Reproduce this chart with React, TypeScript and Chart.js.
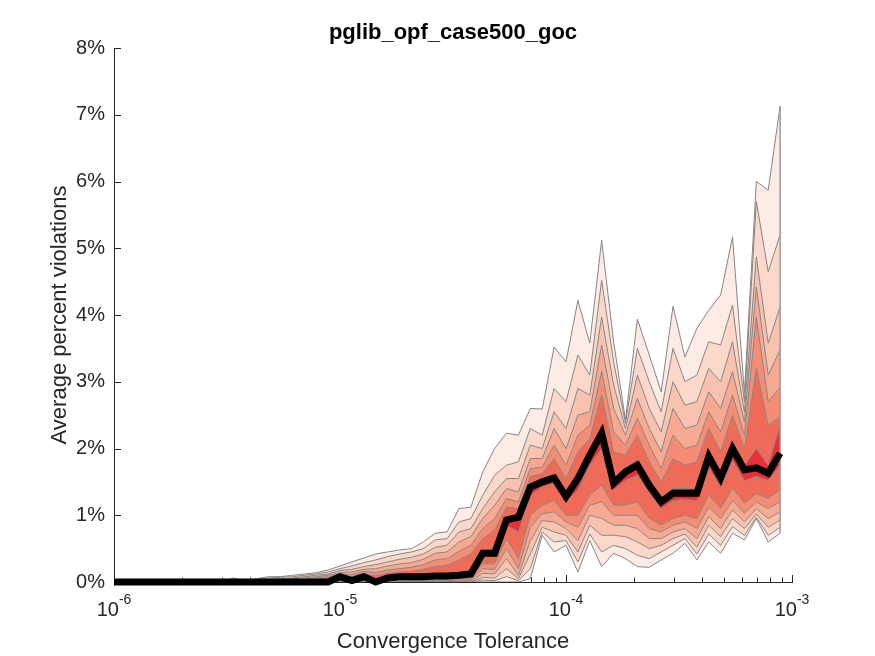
import { useEffect, useRef } from "react";
import { Chart, registerables } from "chart.js";

Chart.register(...registerables);

const chartTitle = "pglib_opf_case500_goc";
const xAxisTitle = "Convergence Tolerance";
const yAxisTitle = "Average percent violations";

// Convergence tolerances (x categories)
const tolerance = [
  1.0e-6, 1.129e-6, 1.274e-6, 1.438e-6, 1.624e-6, 1.833e-6, 2.069e-6, 2.336e-6, 2.637e-6, 2.976e-6,
  3.36e-6, 3.793e-6, 4.281e-6, 4.833e-6, 5.456e-6, 6.158e-6, 6.952e-6, 7.848e-6, 8.859e-6,
  1.0e-5, 1.129e-5, 1.274e-5, 1.438e-5, 1.624e-5, 1.833e-5, 2.069e-5, 2.336e-5, 2.637e-5, 2.976e-5,
  3.36e-5, 3.793e-5, 4.281e-5, 4.833e-5, 5.456e-5, 6.158e-5, 6.952e-5, 7.848e-5, 8.859e-5,
  1.0e-4, 1.129e-4, 1.274e-4, 1.438e-4, 1.624e-4, 1.833e-4, 2.069e-4, 2.336e-4, 2.637e-4, 2.976e-4,
  3.36e-4, 3.793e-4, 4.281e-4, 4.833e-4, 5.456e-4, 6.158e-4, 6.952e-4, 7.848e-4, 8.859e-4,
];

// Median (black line), percent
const median = [
  0, 0, 0, 0, 0, 0, 0, 0, 0, 0, 0, 0, 0, 0, 0, 0, 0, 0, 0,
  0.08, 0.02, 0.08, 0.0, 0.06, 0.08, 0.08, 0.08, 0.09, 0.09, 0.1, 0.12, 0.43, 0.43, 0.93, 0.97, 1.42, 1.5, 1.56,
  1.28, 1.55, 1.9, 2.23, 1.48, 1.65, 1.75, 1.45, 1.2, 1.33, 1.33, 1.33, 1.88, 1.56, 2.0, 1.68, 1.71, 1.63, 1.93,
];

// Upper quantile lines (nearest the median first)
const upper1 = [
  0, 0, 0, 0, 0, 0, 0, 0, 0, 0, 0, 0, 0, 0, 0, 0.01, 0.01, 0.02, 0.03,
  0.09, 0.04, 0.09, 0.02, 0.07, 0.09, 0.1, 0.11, 0.12, 0.12, 0.14, 0.18, 0.48, 0.5, 0.98, 1.0, 1.47, 1.53, 1.62,
  1.33, 1.62, 1.95, 2.33, 1.56, 1.72, 1.83, 1.5, 1.25, 1.4, 1.4, 1.4, 1.92, 1.62, 2.05, 1.74, 2.0, 1.75, 2.35,
];
const upper2 = [
  0, 0, 0, 0, 0, 0, 0, 0, 0, 0, 0, 0, 0, 0, 0.01, 0.02, 0.03, 0.04, 0.05,
  0.1, 0.08, 0.13, 0.09, 0.13, 0.15, 0.16, 0.19, 0.23, 0.25, 0.33, 0.42, 0.65, 0.78, 1.12, 1.1, 1.58, 1.62, 1.85,
  1.55, 1.95, 2.15, 2.8, 1.95, 1.9, 2.2, 1.8, 1.5, 1.85, 1.75, 1.8, 2.3, 1.95, 2.5, 2.0, 3.2, 2.35, 2.47,
];
const upper3 = [
  0, 0, 0, 0, 0, 0, 0, 0, 0, 0, 0, 0, 0, 0.01, 0.02, 0.03, 0.04, 0.06, 0.08,
  0.12, 0.11, 0.16, 0.14, 0.18, 0.2, 0.22, 0.26, 0.33, 0.35, 0.46, 0.55, 0.8, 0.95, 1.25, 1.2, 1.7, 1.72, 2.05,
  1.75, 2.2, 2.35, 3.15, 2.25, 2.05, 2.45, 2.05, 1.7, 2.2, 2.0, 2.05, 2.55, 2.25, 2.8, 2.2, 3.97, 2.7, 2.92,
];
const upper4 = [
  0, 0, 0, 0, 0, 0, 0, 0, 0, 0, 0, 0, 0.01, 0.02, 0.03, 0.05, 0.06, 0.08, 0.1,
  0.14, 0.15, 0.19, 0.2, 0.24, 0.27, 0.29, 0.34, 0.43, 0.45, 0.6, 0.68, 0.95, 1.15, 1.4, 1.35, 1.85, 1.85, 2.3,
  2.0, 2.5, 2.55, 3.55, 2.6, 2.2, 2.75, 2.3, 1.95, 2.6, 2.3, 2.35, 2.85, 2.6, 3.15, 2.4, 4.42, 3.1, 3.48,
];
const upper5 = [
  0, 0, 0, 0, 0, 0, 0, 0, 0, 0, 0.01, 0, 0.02, 0.04, 0.05, 0.06, 0.08, 0.1, 0.12,
  0.17, 0.19, 0.23, 0.26, 0.3, 0.34, 0.37, 0.42, 0.52, 0.55, 0.75, 0.8, 1.1, 1.35, 1.55, 1.55, 2.05, 2.0, 2.55,
  2.3, 2.9, 2.8, 3.97, 2.95, 2.3, 3.1, 2.6, 2.25, 3.0, 2.65, 2.7, 3.2, 3.0, 3.6, 2.55, 4.87, 3.58, 4.12,
];
const upper6 = [
  0, 0, 0, 0, 0, 0, 0, 0, 0, 0, 0.03, 0.01, 0.04, 0.06, 0.07, 0.08, 0.1, 0.12, 0.15,
  0.2, 0.24, 0.29, 0.33, 0.38, 0.42, 0.45, 0.5, 0.63, 0.65, 0.9, 0.95, 1.3, 1.6, 1.75, 1.8, 2.3, 2.2, 2.9,
  2.7, 3.4, 3.1, 4.52, 3.3, 2.38, 3.5, 3.0, 2.55, 3.5, 3.0, 3.1, 3.6, 3.55, 4.15, 2.7, 5.7, 4.65, 5.2,
];
const upperMax = [
  0, 0, 0, 0, 0, 0, 0, 0, 0, 0, 0.06, 0.02, 0.05, 0.08, 0.08, 0.1, 0.12, 0.14, 0.18,
  0.24, 0.3, 0.36, 0.42, 0.45, 0.48, 0.5, 0.6, 0.73, 0.75, 1.1, 1.12, 1.65, 2.0, 2.23, 2.2, 2.6, 2.59, 3.52,
  3.3, 4.22, 3.58, 5.12, 3.6, 2.43, 3.94, 3.4, 2.85, 4.13, 3.37, 3.8, 4.07, 4.3, 5.17, 2.83, 6.0, 5.87, 7.13,
];

// Lower quantile lines (nearest the median first)
const lower1 = [
  0, 0, 0, 0, 0, 0, 0, 0, 0, 0, 0, 0, 0, 0, 0, 0, 0, 0, 0,
  0.06, 0.01, 0.06, 0, 0.05, 0.06, 0.06, 0.06, 0.07, 0.07, 0.08, 0.09, 0.38, 0.38, 0.85, 0.75, 1.3, 1.42, 1.48,
  1.2, 1.38, 1.75, 2.0, 1.38, 1.52, 1.6, 1.33, 1.1, 1.22, 1.24, 1.22, 1.72, 1.42, 1.82, 1.52, 1.58, 1.52, 1.75,
];
const lower2 = [
  0, 0, 0, 0, 0, 0, 0, 0, 0, 0, 0, 0, 0, 0, 0, 0, 0, 0, 0,
  0.03, 0, 0.03, 0, 0.02, 0.03, 0.03, 0.03, 0.04, 0.04, 0.05, 0.05, 0.28, 0.27, 0.65, 0.35, 1.0, 1.15, 1.22,
  1.0, 1.0, 1.3, 1.45, 1.15, 1.15, 1.2, 0.95, 0.85, 0.95, 1.0, 0.95, 1.3, 1.1, 1.4, 1.18, 1.32, 1.25, 1.38,
];
const lower3 = [
  0, 0, 0, 0, 0, 0, 0, 0, 0, 0, 0, 0, 0, 0, 0, 0, 0, 0, 0,
  0.02, 0, 0.01, 0, 0.01, 0.01, 0.02, 0.02, 0.02, 0.02, 0.03, 0.03, 0.2, 0.19, 0.5, 0.2, 0.82, 1.02, 1.05,
  0.9, 0.82, 1.15, 1.2, 1.0, 1.0, 1.0, 0.8, 0.75, 0.85, 0.9, 0.8, 1.12, 0.95, 1.22, 1.03, 1.2, 1.1, 1.2,
];
const lower4 = [
  0, 0, 0, 0, 0, 0, 0, 0, 0, 0, 0, 0, 0, 0, 0, 0, 0, 0, 0,
  0.01, 0, 0, 0, 0, 0, 0.01, 0.01, 0.01, 0.01, 0.01, 0.01, 0.13, 0.12, 0.35, 0.1, 0.62, 0.92, 0.9,
  0.8, 0.62, 1.0, 0.95, 0.85, 0.85, 0.8, 0.65, 0.65, 0.75, 0.8, 0.65, 0.98, 0.8, 1.08, 0.9, 1.1, 0.95, 1.05,
];
const lower5 = [
  0, 0, 0, 0, 0, 0, 0, 0, 0, 0, 0, 0, 0, 0, 0, 0, 0, 0, 0,
  0, 0, 0, 0, 0, 0, 0, 0, 0, 0, 0, 0, 0.07, 0.06, 0.2, 0.05, 0.42, 0.82, 0.75,
  0.7, 0.45, 0.85, 0.7, 0.7, 0.68, 0.6, 0.5, 0.55, 0.65, 0.72, 0.52, 0.85, 0.68, 0.95, 0.8, 1.02, 0.82, 0.93,
];
const lower6 = [
  0, 0, 0, 0, 0, 0, 0, 0, 0, 0, 0, 0, 0, 0, 0, 0, 0, 0, 0,
  0, 0, 0, 0, 0, 0, 0, 0, 0, 0, 0, 0, 0.03, 0.02, 0.08, 0.02, 0.2, 0.75, 0.6,
  0.62, 0.3, 0.72, 0.45, 0.55, 0.5, 0.4, 0.35, 0.45, 0.55, 0.65, 0.42, 0.72, 0.55, 0.83, 0.7, 0.97, 0.7, 0.82,
];
const lowerMin = [
  0, 0, 0, 0, 0, 0, 0, 0, 0, 0, 0, 0, 0, 0, 0, 0, 0, 0, 0,
  0, 0, 0, 0, 0, 0, 0, 0, 0, 0, 0, 0, 0, 0, 0, 0, 0.05, 0.7, 0.45,
  0.55, 0.15, 0.62, 0.23, 0.43, 0.35, 0.23, 0.22, 0.33, 0.43, 0.58, 0.33, 0.6, 0.43, 0.73, 0.63, 0.95, 0.6, 0.73,
];

// Band colours, outermost to innermost
const bandColors = ["#FDEBE5", "#FBD8CA", "#F9C2AF", "#F7A991", "#F48D74", "#F06B57", "#EC2F37"];

const yTicks = [0, 1, 2, 3, 4, 5, 6, 7, 8];
const xMajorTicks = [1e-6, 1e-5, 1e-4, 1e-3];
const xMajorExponents = ["-6", "-5", "-4", "-3"];
const xMinorTicks = [
  2e-6, 3e-6, 4e-6, 5e-6, 6e-6, 7e-6, 8e-6, 9e-6,
  2e-5, 3e-5, 4e-5, 5e-5, 6e-5, 7e-5, 8e-5, 9e-5,
  2e-4, 3e-4, 4e-4, 5e-4, 6e-4, 7e-4, 8e-4, 9e-4,
];

const FONT = '"Liberation Sans", Arial, Helvetica, sans-serif';
const AXIS_COLOR = "#262626";

export default function App() {
  const ref = useRef<HTMLCanvasElement | null>(null);

  useEffect(() => {
    if (!ref.current) return;
    const lines = [
      lowerMin, lower6, lower5, lower4, lower3, lower2, lower1, median,
      upper1, upper2, upper3, upper4, upper5, upper6, upperMax,
    ];
    const n = lines.length - 1;
    const half = (lines.length - 1) / 2;
    const datasets: any[] = lines.map((vals, j) => ({
      data: vals.map((v, k) => ({ x: tolerance[k], y: v })),
      borderColor: "#858585",
      borderWidth: 1,
      pointRadius: 0,
      tension: 0,
      order: 2,
      fill: j === 0 ? false : "-1",
      backgroundColor: j === 0 ? "rgba(0,0,0,0)" : bandColors[j <= half ? j - 1 : n - j],
    }));
    const last = tolerance.length - 1;
    datasets.push({
      data: [
        { x: tolerance[last], y: lowerMin[last] },
        { x: tolerance[last], y: upperMax[last] },
      ],
      borderColor: "#9a9a9a",
      borderWidth: 1.5,
      pointRadius: 0,
      order: 1,
      fill: false,
    });
    datasets.push({
      data: median.map((v, k) => ({ x: tolerance[k], y: v })),
      borderColor: "#000000",
      borderWidth: 7,
      pointRadius: 0,
      tension: 0,
      order: 0,
      fill: false,
      clip: false,
      borderJoinStyle: "miter",
      borderCapStyle: "butt",
    });

    const ticksPlugin = {
      id: "axisTicks",
      beforeDraw(chart: any) {
        const { ctx, chartArea: a, scales } = chart;
        const x = scales.x;
        const y = scales.y;
        ctx.save();
        ctx.strokeStyle = AXIS_COLOR;
        ctx.lineWidth = 1;
        yTicks.forEach((v) => {
          const py = Math.round(y.getPixelForValue(v)) + 0.5;
          ctx.beginPath();
          ctx.moveTo(a.left, py);
          ctx.lineTo(a.left + 7, py);
          ctx.stroke();
        });
        xMajorTicks.forEach((v) => {
          const px = Math.round(x.getPixelForValue(v)) + 0.5;
          ctx.beginPath();
          ctx.moveTo(px, a.bottom);
          ctx.lineTo(px, a.bottom - 7);
          ctx.stroke();
        });
        xMinorTicks.forEach((v) => {
          const px = Math.round(x.getPixelForValue(v)) + 0.5;
          ctx.beginPath();
          ctx.moveTo(px, a.bottom);
          ctx.lineTo(px, a.bottom - 4.5);
          ctx.stroke();
        });
        ctx.restore();
      },
      afterDraw(chart: any) {
        const { ctx, chartArea: a, scales } = chart;
        const x = scales.x;
        const y = scales.y;
        ctx.save();
        ctx.fillStyle = "#000000";
        ctx.font = `bold 22px ${FONT}`;
        ctx.textAlign = "center";
        ctx.textBaseline = "alphabetic";
        ctx.fillText(chartTitle, (a.left + a.right) / 2, 39);
        ctx.fillStyle = AXIS_COLOR;
        ctx.font = `20px ${FONT}`;
        ctx.textAlign = "right";
        ctx.textBaseline = "middle";
        yTicks.forEach((v) => {
          ctx.fillText(`${v}%`, a.left - 9, y.getPixelForValue(v));
        });
        ctx.textAlign = "left";
        ctx.textBaseline = "alphabetic";
        xMajorTicks.forEach((v, i) => {
          const px = x.getPixelForValue(v);
          ctx.font = `20px ${FONT}`;
          const w1 = ctx.measureText("10").width;
          ctx.font = `14px ${FONT}`;
          const w2 = ctx.measureText(xMajorExponents[i]).width;
          const start = px - (w1 + w2) / 2;
          ctx.font = `20px ${FONT}`;
          ctx.fillText("10", start, a.bottom + 34);
          ctx.font = `14px ${FONT}`;
          ctx.fillText(xMajorExponents[i], start + w1, a.bottom + 22);
        });
        ctx.font = `22px ${FONT}`;
        ctx.textAlign = "center";
        ctx.fillText(xAxisTitle, (a.left + a.right) / 2, a.bottom + 66);
        ctx.translate(a.left - 48, (a.top + a.bottom) / 2);
        ctx.rotate(-Math.PI / 2);
        ctx.fillText(yAxisTitle, 0, 0);
        ctx.restore();
      },
    };

    const chart = new Chart(ref.current, {
      type: "line",
      data: { datasets },
      options: {
        animation: false,
        responsive: false,
        maintainAspectRatio: false,
        layout: { padding: { top: 48, right: 83, left: 0, bottom: 0 } },
        plugins: {
          legend: { display: false },
          tooltip: { enabled: false },
          title: { display: false },
          filler: { drawTime: "beforeDatasetsDraw", propagate: false },
        },
        scales: {
          x: {
            type: "logarithmic",
            min: 1e-6,
            max: 1e-3,
            grid: { display: false },
            border: { display: true, color: AXIS_COLOR, width: 1 },
            ticks: { display: false },
            afterFit: (s: any) => {
              s.height = 74;
            },
          },
          y: {
            type: "linear",
            min: 0,
            max: 8,
            grid: { display: false },
            border: { display: true, color: AXIS_COLOR, width: 1 },
            ticks: { display: false, stepSize: 1 },
            afterFit: (s: any) => {
              s.width = 114;
            },
          },
        },
      } as any,
      plugins: [ticksPlugin],
    });
    return () => chart.destroy();
  }, []);

  return (
    <div style={{ position: "absolute", left: 0, top: 0, width: 875, height: 656, background: "#ffffff" }}>
      <canvas ref={ref} width={875} height={656} style={{ width: 875, height: 656, display: "block" }} />
    </div>
  );
}
